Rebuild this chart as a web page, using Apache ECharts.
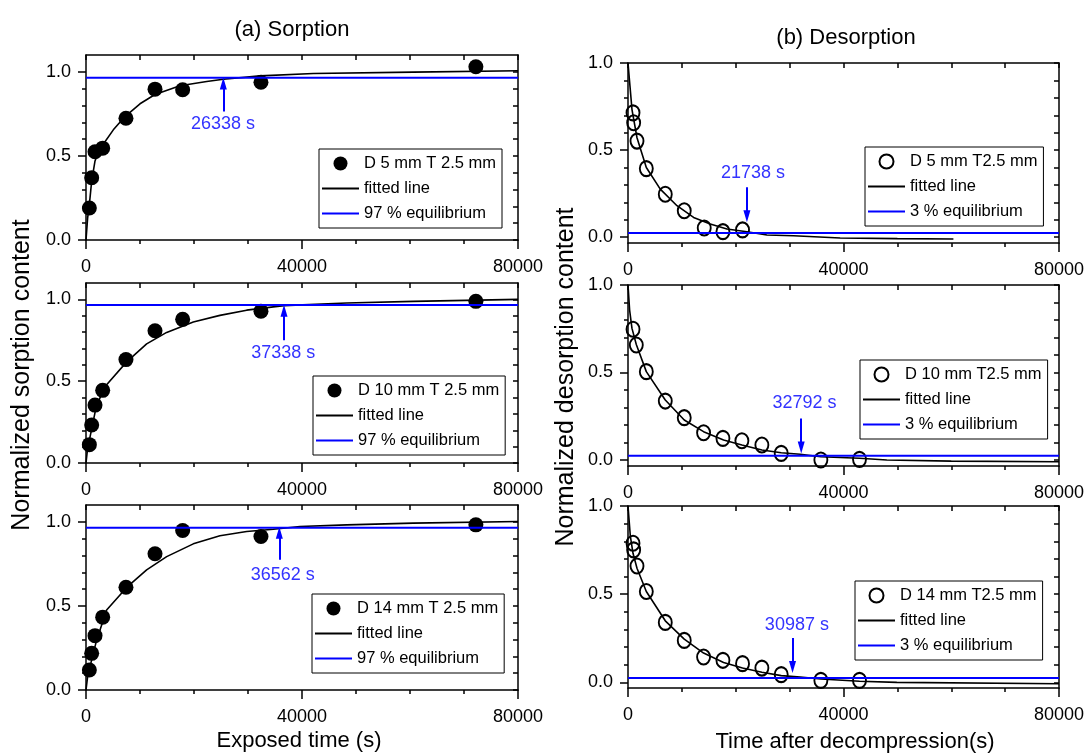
<!DOCTYPE html>
<html>
<head>
<meta charset="utf-8">
<title>Sorption and desorption</title>
<script src="https://cdn.jsdelivr.net/npm/echarts@6.0.0/dist/echarts.min.js"></script>
<style>
    html, body { margin: 0; padding: 0; background: #fff; }
    #sorption_chart { width: 1086px; height: 756px; }
</style>
</head>
<body>
<div id="sorption_chart"></div>
<script>

// Data
// ------------------------------

// Sorption: exposed time (s) and normalized content
var sorpTime = [620, 1050, 1670, 3090, 7400, 12780, 17900, 32400, 72200];
var sorpD5  = [0.19, 0.37, 0.525, 0.546, 0.724, 0.897, 0.893, 0.938, 1.03];
var sorpD10 = [0.112, 0.232, 0.354, 0.444, 0.632, 0.808, 0.878, 0.928, 0.988];
var sorpD14 = [0.119, 0.218, 0.323, 0.433, 0.611, 0.81, 0.948, 0.913, 0.982];

// Sorption fitted lines
var fitSorpD5Time  = [0, 300, 620, 1050, 1670, 2400, 3090, 5060, 7220, 10000, 12780, 17400, 22350, 25430, 32220, 42100, 60600, 80000];
var fitSorpD5      = [0, 0.13, 0.21, 0.35, 0.47, 0.53, 0.565, 0.655, 0.734, 0.81, 0.865, 0.917, 0.942, 0.956, 0.976, 0.99, 0.998, 1.006];
var fitSorpD10Time = [0, 300, 740, 1980, 3820, 7530, 11230, 14940, 19870, 24800, 29750, 34690, 36670, 48270, 60600, 80000];
var fitSorpD10     = [0, 0.09, 0.158, 0.358, 0.478, 0.618, 0.728, 0.798, 0.862, 0.902, 0.934, 0.954, 0.962, 0.978, 0.988, 1.0];
var fitSorpD14Time = [0, 300, 740, 1980, 3820, 7530, 11230, 14940, 19870, 24800, 29750, 34690, 39630, 48270, 60600, 80000];
var fitSorpD14     = [0, 0.08, 0.139, 0.298, 0.476, 0.61, 0.714, 0.793, 0.869, 0.917, 0.942, 0.956, 0.972, 0.982, 0.992, 1.002];

// Desorption: time after decompression (s) and normalized content
var desTimeD5  = [930, 1050, 1670, 3400, 6920, 10440, 14150, 17620, 21260];
var desD5      = [0.714, 0.657, 0.552, 0.394, 0.247, 0.152, 0.053, 0.032, 0.042];
var desTimeD10 = [930, 1540, 3400, 6920, 10440, 14030, 17620, 21140, 24850, 28440, 35800, 42970];
var desD10     = [0.747, 0.657, 0.505, 0.337, 0.242, 0.156, 0.124, 0.11, 0.086, 0.038, 0.0, 0.004];
var desTimeD14 = [930, 1050, 1670, 3400, 6920, 10440, 14030, 17620, 21260, 24850, 28440, 35800, 42970];
var desD14     = [0.789, 0.751, 0.66, 0.515, 0.34, 0.238, 0.144, 0.125, 0.106, 0.081, 0.044, 0.011, 0.011];

// Desorption fitted lines
var fitDesD5Time  = [0, 370, 740, 1670, 3400, 5990, 9090, 12170, 15270, 18360, 22070, 25780, 30730, 39380, 50000, 60400];
var fitDesD5      = [1.0, 0.866, 0.733, 0.571, 0.40, 0.276, 0.181, 0.114, 0.076, 0.047, 0.032, 0.013, 0.009, -0.004, -0.008, -0.01];
var fitDesD10Time = [0, 300, 740, 1540, 3400, 6920, 10440, 14030, 17740, 21140, 24850, 28440, 31960, 35800, 42970, 48040, 60000, 80000];
var fitDesD10     = [1.0, 0.857, 0.752, 0.66, 0.505, 0.343, 0.229, 0.162, 0.114, 0.086, 0.057, 0.042, 0.033, 0.019, 0.01, 0.0, -0.006, -0.01];
var fitDesD14Time = [0, 430, 930, 1670, 3400, 6920, 10440, 14030, 17740, 21260, 24850, 28440, 31960, 35800, 42970, 49900, 80000];
var fitDesD14     = [1.0, 0.83, 0.732, 0.647, 0.515, 0.349, 0.245, 0.166, 0.113, 0.081, 0.057, 0.038, 0.03, 0.019, 0.006, 0.0, -0.008];

// Equilibrium levels
var sorpEq = 0.965;
var desEq = 0.025;

// Annotations (arrow x, arrow start / end, label)
var sorpArrowTime = [25430, 36670, 35800];
var sorpArrowFrom = [0.764, 0.75, 0.774];
var sorpArrowTo   = [0.93, 0.93, 0.935];
var sorpLabelText = ['26338 s', '37338 s', '36562 s'];
var sorpLabelTime = [25370, 36540, 36420];
var sorpLabelPos  = [0.69, 0.674, 0.685];

var desArrowTime = [22070, 32150, 30540];
var desArrowFrom = [0.287, 0.238, 0.251];
var desArrowTo   = [0.12, 0.072, 0.087];
var desLabelText = ['21738 s', '32792 s', '30987 s'];
var desLabelTime = [23190, 32770, 31350];
var desLabelPos  = [0.367, 0.324, 0.327];

// Legend names
var sorpNames = ['D 5 mm T 2.5 mm', 'D 10 mm T 2.5 mm', 'D 14 mm T 2.5 mm'];
var desNames  = ['D 5 mm T2.5 mm', 'D 10 mm T2.5 mm', 'D 14 mm T2.5 mm'];

// Ticks
var xTicks = [0, 40000, 80000];
var yMajorTicks = [0, 0.5, 1.0];
var yMinorTicks = [0, 0.1, 0.2, 0.3, 0.4, 0.5, 0.6, 0.7, 0.8, 0.9, 1.0];


// Setup module
// ------------------------------

var EchartsSorptionPanels = function() {

    var _sorptionPanels = function() {
        if (typeof echarts == 'undefined') {
            console.warn('Warning - echarts.min.js is not loaded.');
            return;
        }

        var chart_element = document.getElementById('sorption_chart');
        if (!chart_element) {
            return;
        }

        var chart = echarts.init(chart_element);

        // Styles
        var fontFamily = 'Liberation Sans, Arial, sans-serif',
            frameColor = '#000',
            frameWidth = 1.5,
            blueColor = '#0000ff',
            labelBlue = '#3333ff';

        var pairs = function(xs, ys) {
            return xs.map(function(x, k) { return [x, ys[k]]; });
        };

        var panels = [
            { left: 86,  top: 55,  width: 432, height: 185, yMin: 0, yMax: 1.1, legendLeft: 319, legendTop: 149, kind: 'sorp', i: 0,
              time: sorpTime, values: sorpD5, fitTime: fitSorpD5Time, fit: fitSorpD5 },
            { left: 86,  top: 283, width: 432, height: 180, yMin: 0, yMax: 1.1, legendLeft: 313, legendTop: 376, kind: 'sorp', i: 1,
              time: sorpTime, values: sorpD10, fitTime: fitSorpD10Time, fit: fitSorpD10 },
            { left: 86,  top: 505, width: 432, height: 185, yMin: 0, yMax: 1.1, legendLeft: 312, legendTop: 594, kind: 'sorp', i: 2,
              time: sorpTime, values: sorpD14, fitTime: fitSorpD14Time, fit: fitSorpD14 },
            { left: 628, top: 63,  width: 431, height: 180, yMin: -0.033, yMax: 1.0, legendLeft: 865, legendTop: 147, kind: 'des', i: 0,
              time: desTimeD5, values: desD5, fitTime: fitDesD5Time, fit: fitDesD5 },
            { left: 628, top: 285, width: 431, height: 181, yMin: -0.034, yMax: 1.0, legendLeft: 860, legendTop: 360, kind: 'des', i: 1,
              time: desTimeD10, values: desD10, fitTime: fitDesD10Time, fit: fitDesD10 },
            { left: 628, top: 506, width: 431, height: 182, yMin: -0.032, yMax: 1.0, legendLeft: 855, legendTop: 581, kind: 'des', i: 2,
              time: desTimeD14, values: desD14, fitTime: fitDesD14Time, fit: fitDesD14 }
        ];

        var grids = [], xAxes = [], yAxes = [], series = [], legends = [];

        panels.forEach(function(p, g) {
            var isSorp = p.kind === 'sorp';
            var eq = isSorp ? sorpEq : desEq;
            var name = isSorp ? sorpNames[p.i] : desNames[p.i];
            var eqName = isSorp ? '97 % equilibrium' : '3 % equilibrium';
            var pointStyle = isSorp
                ? { color: '#000', opacity: 1 }
                : { color: 'rgba(255,255,255,0)', borderColor: '#000', borderWidth: 2, opacity: 1 };

            grids.push({
                left: p.left, top: p.top, width: p.width, height: p.height,
                containLabel: false,
                outerBoundsMode: 'none'
            });

            // Bottom axis
            xAxes.push({
                type: 'value', gridIndex: g, position: 'bottom',
                min: 0, max: 80000, interval: 40000,
                axisLine: { show: true, onZero: false, lineStyle: { color: frameColor, width: frameWidth } },
                axisTick: { show: true, inside: false, length: 9, lineStyle: { color: frameColor, width: frameWidth } },
                minorTick: { show: true, splitNumber: 4, length: 4, lineStyle: { color: frameColor, width: frameWidth } },
                axisLabel: {
                    show: true, margin: 18, fontSize: 18, color: '#000', fontFamily: fontFamily,
                    customValues: xTicks,
                    formatter: function(v) { return String(v); }
                },
                splitLine: { show: false },
                minorSplitLine: { show: false }
            });

            // Top axis
            xAxes.push({
                type: 'value', gridIndex: g, position: 'top',
                min: 0, max: 80000, interval: 10000,
                axisLine: { show: true, onZero: false, lineStyle: { color: frameColor, width: frameWidth } },
                axisTick: { show: true, inside: true, length: 5, lineStyle: { color: frameColor, width: frameWidth } },
                axisLabel: { show: false },
                splitLine: { show: false }
            });

            // Left axis, major
            yAxes.push({
                type: 'value', gridIndex: g, position: 'left',
                min: p.yMin, max: p.yMax,
                axisLine: { show: true, onZero: false, lineStyle: { color: frameColor, width: frameWidth } },
                axisTick: { show: true, inside: false, length: 8, customValues: yMajorTicks, lineStyle: { color: frameColor, width: frameWidth } },
                axisLabel: {
                    show: true, margin: 15, fontSize: 18, color: '#000', fontFamily: fontFamily,
                    customValues: yMajorTicks,
                    formatter: function(v) { return v.toFixed(1); }
                },
                splitLine: { show: false }
            });

            // Left axis, minor
            yAxes.push({
                type: 'value', gridIndex: g, position: 'left',
                min: p.yMin, max: p.yMax,
                axisLine: { show: false, onZero: false },
                axisTick: { show: true, inside: false, length: 4, customValues: yMinorTicks, lineStyle: { color: frameColor, width: frameWidth } },
                axisLabel: { show: false },
                splitLine: { show: false }
            });

            // Right axis
            yAxes.push({
                type: 'value', gridIndex: g, position: 'right',
                min: p.yMin, max: p.yMax,
                axisLine: { show: true, onZero: false, lineStyle: { color: frameColor, width: frameWidth } },
                axisTick: { show: true, inside: true, length: 5, customValues: yMinorTicks, lineStyle: { color: frameColor, width: frameWidth } },
                axisLabel: { show: false },
                splitLine: { show: false }
            });

            var xi = 2 * g, yi = 3 * g;

            // Fitted line
            series.push({
                name: 'fitted line',
                type: 'line',
                xAxisIndex: xi, yAxisIndex: yi,
                data: pairs(p.fitTime, p.fit),
                symbol: 'none',
                smooth: false,
                lineStyle: { color: '#000', width: 1.6 },
                itemStyle: { color: '#000' },
                z: 2
            });

            // Measured points
            series.push({
                name: name,
                type: 'scatter',
                xAxisIndex: xi, yAxisIndex: yi,
                data: pairs(p.time, p.values),
                symbol: 'circle',
                symbolSize: isSorp ? 15 : [13, 15],
                itemStyle: pointStyle,
                emphasis: { disabled: true },
                z: 3
            });

            // Equilibrium line with arrow and label
            var arrowX = isSorp ? sorpArrowTime[p.i] : desArrowTime[p.i];
            var arrowFrom = isSorp ? sorpArrowFrom[p.i] : desArrowFrom[p.i];
            var arrowTo = isSorp ? sorpArrowTo[p.i] : desArrowTo[p.i];
            var labelText = isSorp ? sorpLabelText[p.i] : desLabelText[p.i];
            var labelX = isSorp ? sorpLabelTime[p.i] : desLabelTime[p.i];
            var labelY = isSorp ? sorpLabelPos[p.i] : desLabelPos[p.i];

            series.push({
                name: eqName,
                type: 'line',
                xAxisIndex: xi, yAxisIndex: yi,
                data: [[0, eq], [80000, eq]],
                symbol: 'none',
                lineStyle: { color: blueColor, width: 2 },
                itemStyle: { color: blueColor },
                z: 4,
                markLine: {
                    silent: true,
                    symbol: ['none', 'triangle'],
                    symbolSize: [7, 12],
                    lineStyle: { color: blueColor, width: 2, type: 'solid' },
                    itemStyle: { color: blueColor },
                    label: { show: false },
                    emphasis: { disabled: true },
                    data: [[{ coord: [arrowX, arrowFrom] }, { coord: [arrowX, arrowTo] }]]
                },
                markPoint: {
                    silent: true,
                    symbol: 'circle',
                    symbolSize: 0,
                    label: {
                        show: true, position: 'inside', formatter: '{b}',
                        color: labelBlue, fontSize: 18, fontFamily: fontFamily
                    },
                    data: [{ name: labelText, coord: [labelX, labelY] }]
                }
            });

            // Legend
            var hiddenSymbol = { color: 'rgba(0,0,0,0)', borderWidth: 0, opacity: 0 };
            legends.push({
                left: p.legendLeft, top: p.legendTop,
                orient: 'vertical',
                itemWidth: 37, itemHeight: 14, itemGap: 8,
                padding: [6, 6, 6, 2],
                borderColor: '#000', borderWidth: 1, borderRadius: 0,
                backgroundColor: '#fff',
                selectedMode: false,
                textStyle: { fontSize: 16.5, color: '#000', fontFamily: fontFamily },
                data: [
                    { name: name, icon: 'circle', itemStyle: pointStyle },
                    { name: 'fitted line', itemStyle: hiddenSymbol, lineStyle: { color: '#000', width: 2 } },
                    { name: eqName, itemStyle: hiddenSymbol, lineStyle: { color: blueColor, width: 2 } }
                ]
            });
        });

        var textItem = function(text, x, y, size, rotation) {
            return {
                type: 'text', x: x, y: y, rotation: rotation || 0,
                style: {
                    text: text, fill: '#000', fontSize: size, fontFamily: fontFamily,
                    align: 'center', verticalAlign: 'middle'
                }
            };
        };

        chart.setOption({
            animation: false,
            backgroundColor: '#fff',
            textStyle: { fontFamily: fontFamily },
            grid: grids,
            xAxis: xAxes,
            yAxis: yAxes,
            legend: legends,
            series: series,
            graphic: [
                textItem('(a) Sorption', 292, 30, 22),
                textItem('(b) Desorption', 846, 38, 22),
                textItem('Normalized sorption content', 22, 375, 25, Math.PI / 2),
                textItem('Normalized desorption content', 566, 377, 25, Math.PI / 2),
                textItem('Exposed time (s)', 299, 741, 22),
                textItem('Time after decompression(s)', 855, 742, 22)
            ]
        });

        window.addEventListener('resize', function() {
            chart.resize();
        });
    };

    return {
        init: function() {
            _sorptionPanels();
        }
    };
}();


// Initialize module
// ------------------------------

document.addEventListener('DOMContentLoaded', function() {
    EchartsSorptionPanels.init();
});
</script>
</body>
</html>
